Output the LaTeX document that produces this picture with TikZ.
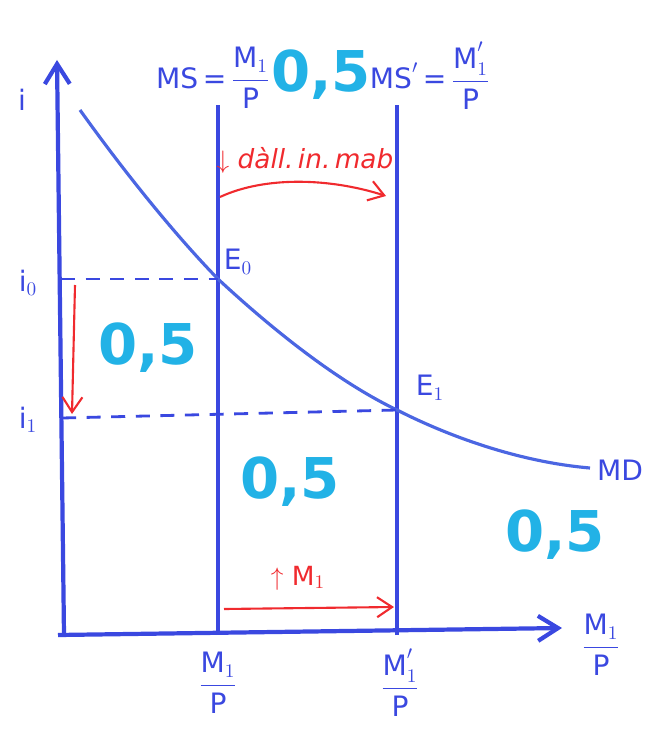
\documentclass[tikz,border=0pt]{standalone}
\usepackage{fontspec}
\setsansfont{DejaVu Sans}
\usepackage{amsmath}
\usepackage{tikz}
\usetikzlibrary{arrows.meta,positioning}
\definecolor{ink}{HTML}{3A48E0}
\definecolor{inkl}{HTML}{4B66E2}
\definecolor{pen}{HTML}{F02A2E}
\definecolor{hilite}{HTML}{22B2E6}
\newcommand{\rfrac}[1]{$\dfrac{\mathsf{M}#1}{\mathsf{P}}$}

\begin{document}
\begin{tikzpicture}[
  x=0.02cm,y=-0.02cm,
  font=\sffamily\fontsize{16}{19}\selectfont,
  ax/.style={draw=ink,line width=2.4pt,-{Straight Barb[length=4mm,width=5mm]}},
  ms/.style={draw=ink,line width=2.4pt},
  md/.style={draw=inkl,line width=1.8pt},
  dsh/.style={draw=ink,line width=1.6pt,dash pattern=on 8pt off 6pt},
  rarr/.style={-{Straight Barb[length=3mm,width=4mm]},draw=pen,line width=1.2pt},
  lbl/.style={text=ink},
  rlbl/.style={text=pen,font=\sffamily\itshape\fontsize{15}{18}\selectfont},
  grade/.style={text=hilite,font=\sffamily\bfseries\fontsize{32}{36}\selectfont}
]
\useasboundingbox (0,0) rectangle (650,729);

% axes
\coordinate (O)  at (64,635);
\coordinate (yT) at (57,60);
\coordinate (xT) at (562,628);
\draw[ax] (O) -- (yT);
\draw[ax] (58,635) -- (xT);

% money supply
\coordinate (s0T) at (218,105);
\coordinate (s0B) at (218,635);
\coordinate (s1T) at (397,105);
\coordinate (s1B) at (397,635);
\draw[ms] (s0B) -- (s0T);
\draw[ms] (s1B) -- (s1T);

% money demand
\coordinate (E0) at (218,279);
\coordinate (E1) at (397,410);
\coordinate (mdA) at (80,110);
\coordinate (mdB) at (590,468);
\draw[md] (mdA) .. controls (130,180) and (180,240) .. (E0)
  .. controls (260,318) and (330,378) .. (E1)
  .. controls (450,437) and (520,462) .. (mdB);

% interest rates
\coordinate (i0) at (61,279);
\coordinate (i1) at (62,418);
\draw[dsh] (i0) -- (E0);
\draw[dsh] (i1) -- (E1);

% shifts
\coordinate (ra) at (220,197);
\coordinate (rb) at (386,196);
\draw[rarr] (ra) .. controls (265,176) and (330,178) .. (rb);
\coordinate (rc) at (75,285);
\coordinate (rd) at (72,414);
\draw[rarr] (rc) -- (rd);
\coordinate (re) at (224,609);
\coordinate (rf) at (394,607);
\draw[rarr] (re) -- (rf);

% labels
\node[lbl] (li)  at (22,100) {$\mathsf{i}$};
\node[lbl] (li0) at (28,283) {$\mathsf{i}_0$};
\node[lbl] (li1) at (28,420) {$\mathsf{i}_1$};
\node[lbl] (lE0) at (238,262) {$\mathsf{E}_0$};
\node[lbl] (lE1) at (430,388) {$\mathsf{E}_1$};
\node[lbl] (lMD) at (620,470) {MD};
\node[lbl] (lms0) at (213,78) {MS\,=\,\rfrac{_1}};
\node[lbl] (lms1) at (430,76) {MS$'$\,=\,\rfrac{'_1}};
\node[lbl] (lx0) at (218,683) {\rfrac{_1}};
\node[lbl] (lx1) at (400,683) {\rfrac{'_1}};
\node[lbl] (lx)  at (601,645) {\rfrac{_1}};
\node[rlbl] (lup) at (305,160) {$\downarrow$ dàll.\,in.\,mab};
\node[rlbl] (lm1) at (298,578) {$\uparrow$ $\mathsf{M}_1$};

% marks
\node[grade] (g1) at (321,75)  {0,5};
\node[grade] (g2) at (148,348) {0,5};
\node[grade] (g3) at (290,482) {0,5};
\node[grade] (g4) at (555,535) {0,5};
\end{tikzpicture}
\end{document}
